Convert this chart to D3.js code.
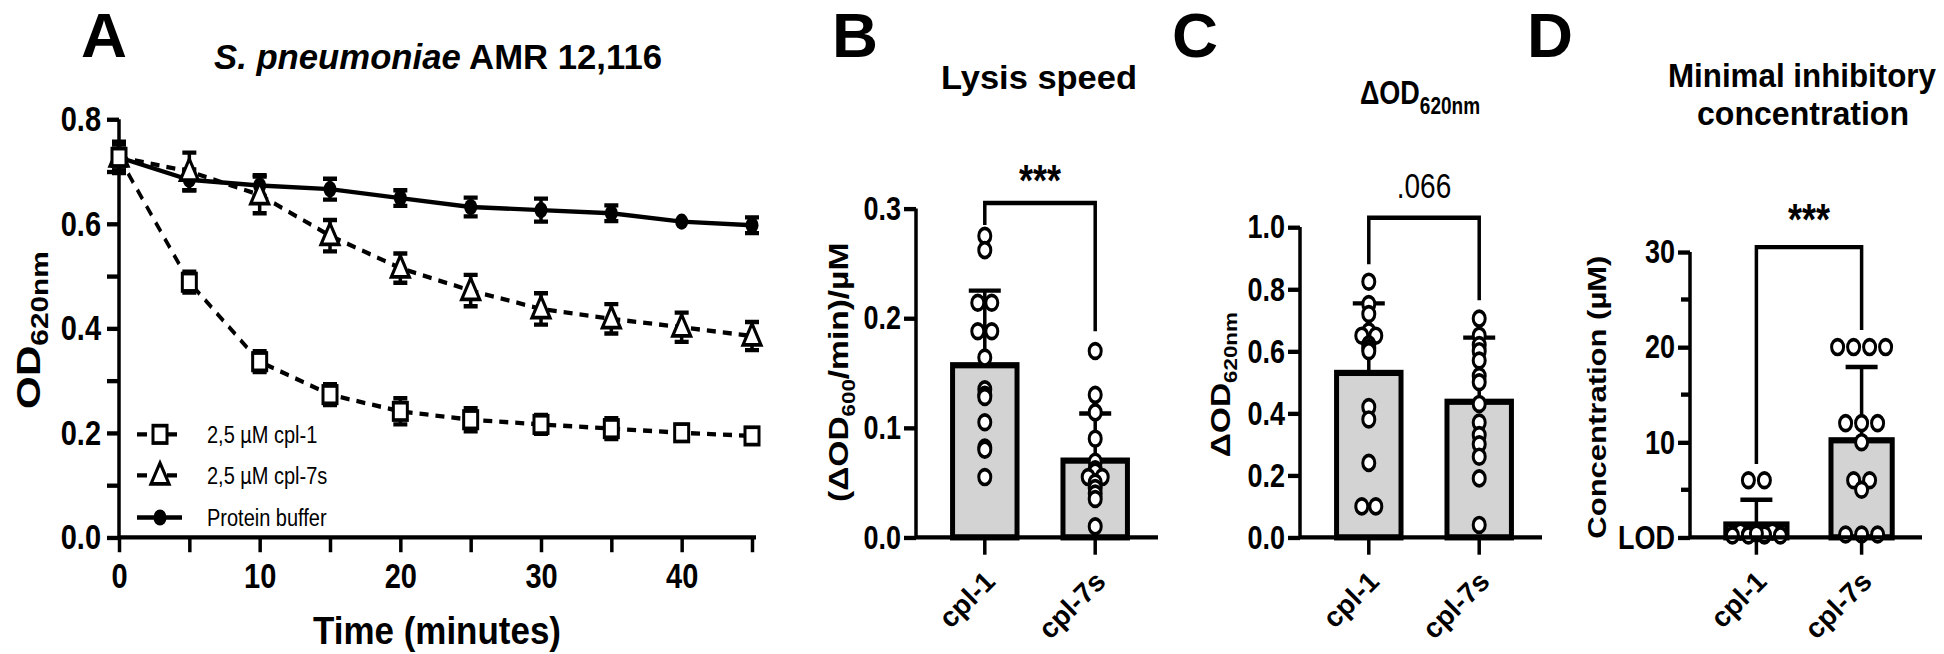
<!DOCTYPE html>
<html><head><meta charset="utf-8">
<script src="https://d3js.org/d3.v7.min.js"></script>
<style>body{margin:0;background:#fff}text{font-family:"Liberation Sans",Arial,sans-serif;font-weight:bold}</style>
</head><body><svg id="c" width="1944" height="654"></svg>
<script>
// ---------- Data ----------
const times = [0,5,10,15,20,25,30,35,40,45];
const cpl1Mean = [0.727,0.488,0.336,0.273,0.241,0.225,0.216,0.208,0.200,0.194];
const cpl1Err  = [0.025,0.02,0.02,0.02,0.025,0.022,0.018,0.02,0.015,0.015];
const cpl7Mean = [0.727,0.700,0.655,0.577,0.515,0.472,0.437,0.418,0.402,0.385];
const cpl7Err  = [0.03,0.036,0.035,0.03,0.028,0.03,0.03,0.028,0.028,0.027];
const bufMean  = [0.727,0.684,0.673,0.666,0.649,0.632,0.626,0.620,0.604,0.597];
const bufErr   = [0.025,0.02,0.02,0.02,0.015,0.018,0.022,0.015,0.0,0.015];
const yTicksA = [0,0.2,0.4,0.6,0.8];
const xTicksA = [0,10,20,30,40];
const groups = ["cpl-1","cpl-7s"];
const bMeans = [0.157,0.070]; const bSD=[0.068,0.043];
const bPts1 = [0.275,0.262,0.214,0.214,0.188,0.188,0.164,0.135,0.130,0.128,0.105,0.082,0.080,0.055];
const bPts2 = [0.170,0.130,0.114,0.090,0.069,0.062,0.060,0.055,0.055,0.050,0.045,0.040,0.035,0.010];
const cMeans = [0.530,0.437]; const cSD=[0.224,0.207];
const cPts1 = [0.824,0.752,0.720,0.664,0.650,0.650,0.622,0.610,0.600,0.420,0.380,0.240,0.100,0.100];
const cPts2 = [0.705,0.650,0.620,0.600,0.570,0.520,0.500,0.430,0.370,0.330,0.300,0.260,0.190,0.040];
const dMeans = [1.35,10.2]; const dSD=[2.6,7.7];
const dPts1 = [6,6,0.6,0.6,0.6,0.3,0.2,0.2,0.2,0.3,0.4,0.2];
const dPts2 = [20,20,20,20,12,12,12,10,6,6,5,0.3,0.3,0.3];

const SY = 654/527;
const svgTop = d3.select("#c");
const svg = svgTop.append("g").attr("transform",`scale(1,${SY})`);
function txt(g,x,y,s,size,opts={}){const t=g.append("text").attr("x",x).attr("y",y).attr("font-size",size).attr("text-anchor",opts.anchor||"middle").text(s);if(opts.rot)t.attr("transform",`rotate(${opts.rot},${x},${y})`);if(opts.weight)t.style("font-weight",opts.weight);if(opts.len)t.attr("textLength",opts.len).attr("lengthAdjust","spacingAndGlyphs");return t;}

[["A",104],["B",855],["C",1195],["D",1550]].forEach(([l,x])=>txt(svg,x,46,l,50,{len:46}));

// ---------- Panel A ----------
const xA = d3.scaleLinear().domain([0,45]).range([119,752]);
const yA = d3.scaleLinear().domain([0,0.8]).range([433,96]);
const gA = svg.append("g");
const axY = gA.append("g").attr("transform","translate(119,0)").call(d3.axisLeft(yA).tickValues(d3.range(0,0.81,0.1)).tickSize(12).tickFormat(d=>yTicksA.some(t=>Math.abs(t-d)<1e-6)?d.toFixed(1):""));
const axX = gA.append("g").attr("transform","translate(0,433)").call(d3.axisBottom(xA).tickValues(d3.range(0,46,5)).tickSize(12).tickFormat(d=>xTicksA.includes(d)?d:""));
[axY,axX].forEach(a=>{a.selectAll("path,line").attr("stroke","#000").attr("stroke-width",3.5);a.select(".domain").attr("d",a===axY?"M0,433V96":"M119,0H756");a.selectAll("text").attr("font-size",29).attr("fill","#000");});
axY.selectAll("text").attr("dx",-3);
axX.selectAll("text").attr("dy","0.9em");
const tA=txt(gA,438,56,"",29,{len:448});tA.append("tspan").attr("font-style","italic").text("S. pneumoniae");tA.append("tspan").text(" AMR 12,116");
txt(gA,437,519,"Time (minutes)",31,{len:248});
const oy=txt(gA,40,266,"",34,{rot:-90});oy.append("tspan").text("OD");oy.append("tspan").attr("font-size",24).attr("dy",8).text("620nm");

const series=[{m:cpl1Mean,e:cpl1Err,dash:"9,7",sym:"sq"},{m:cpl7Mean,e:cpl7Err,dash:"9,7",sym:"tri"},{m:bufMean,e:bufErr,dash:null,sym:"dot"}];
function sym(g,type,x,y){
 if(type==="sq") g.append("rect").attr("x",x-7).attr("y",y-7).attr("width",14).attr("height",14).attr("fill","#fff").attr("stroke","#000").attr("stroke-width",3);
 else if(type==="tri") g.append("path").attr("d",`M${x},${y-10}L${x+9},${y+7}L${x-9},${y+7}Z`).attr("fill","#fff").attr("stroke","#000").attr("stroke-width",3);
 else g.append("circle").attr("cx",x).attr("cy",y).attr("r",6.5).attr("fill","#000");
}
series.slice().reverse().forEach(s=>{
 const line=d3.line().x((d,i)=>xA(times[i])).y(d=>yA(d));
 gA.append("path").attr("d",line(s.m)).attr("fill","none").attr("stroke","#000").attr("stroke-width",3.5).attr("stroke-dasharray",s.dash);
 s.m.forEach((v,i)=>{const x=xA(times[i]);if(s.e[i]>0){const y1=yA(v+s.e[i]),y2=yA(v-s.e[i]);gA.append("path").attr("d",`M${x},${y1}V${y2}M${x-7},${y1}H${x+7}M${x-7},${y2}H${x+7}`).attr("stroke","#000").attr("stroke-width",3.5).attr("fill","none");}
 sym(gA,s.sym,x,yA(v));});
});
const legs=[["2,5 µM cpl-1","sq","10,20",350],["2,5 µM cpl-7s","tri","10,20",383],["Protein buffer","dot",null,417]];
legs.forEach(([l,s,d,y])=>{gA.append("path").attr("d",`M137,${y}H182`).attr("stroke","#000").attr("stroke-width",3.5).attr("stroke-dasharray",d);sym(gA,s,160,y);txt(gA,207,y+7,l,20,{anchor:"start",weight:"normal"});});

// ---------- Bar panels ----------
function barPanel(o){
 const g=svg.append("g");
 const x=d3.scaleBand().domain(groups).range([o.ax+18,o.xEnd]).paddingInner(0.38).paddingOuter(0.15);
 const y=d3.scaleLinear().domain(o.dom).range([433,o.top]);
 const cx=c=>x(c)+x.bandwidth()/2;
 o.means.forEach((m,i)=>{g.append("rect").attr("x",x(groups[i])+2).attr("y",y(m)).attr("width",x.bandwidth()-4).attr("height",433-y(m)).attr("fill","#d3d3d3").attr("stroke","#000").attr("stroke-width",5);});
 o.means.forEach((m,i)=>{const X=cx(groups[i]);g.append("path").attr("d",`M${X},${y(m)}V${y(m+o.sd[i])}M${X-16},${y(m+o.sd[i])}H${X+16}`).attr("stroke","#000").attr("stroke-width",3.5);});
 [o.p1,o.p2].forEach((pts,i)=>{const X=cx(groups[i]);const cnt={};pts.forEach(v=>{const k=v.toFixed(3);cnt[k]=(cnt[k]||0)+1;});const seen={};
  pts.forEach(v=>{const k=v.toFixed(3);const n=cnt[k];const j=seen[k]=(seen[k]||0)+1;const off=(j-1-(n-1)/2)*o.jit;
   g.append("circle").attr("cx",X+off).attr("cy",y(v)).attr("r",6).attr("fill","#fff").attr("stroke","#000").attr("stroke-width",3);});});
 const ay=g.append("g").attr("transform",`translate(${o.ax},0)`).call(d3.axisLeft(y).tickValues(o.ticks).tickSize(12).tickFormat(o.fmt));
 const ax=g.append("g").attr("transform","translate(0,433)").call(d3.axisBottom(x).tickSize(14).tickFormat(""));
 [ay,ax].forEach(a=>{a.selectAll("path,line").attr("stroke","#000").attr("stroke-width",3.5);a.selectAll("text").attr("font-size",27).attr("fill","#000");});
 ay.select(".domain").attr("d",`M0,433V${o.top}`);ax.select(".domain").attr("d",`M${o.ax},0H${o.xEnd+12}`);
 if(o.minor) o.minor.forEach(v=>g.append("line").attr("x1",o.ax-9).attr("x2",o.ax).attr("y1",y(v)).attr("y2",y(v)).attr("stroke","#000").attr("stroke-width",3.5));
 groups.forEach(c=>txt(svgTop,cx(c)+12,470*SY,c,28,{anchor:"end",rot:-45}));
 const X1=cx(groups[0]),X2=cx(groups[1]);
 g.append("path").attr("d",`M${X1},${y(o.br[1])}V${y(o.br[0])}H${X2}V${y(o.br[2])}`).attr("fill","none").attr("stroke","#000").attr("stroke-width",3.5);
 txt(g,(X1+X2)/2,y(o.br[0])-o.sigOff,o.sig,o.sig.startsWith("*")?36:28,{weight:o.sig.startsWith("*")?"bold":"normal"});
 return {g,x,y};
}
const B=barPanel({ax:916,xEnd:1146,top:168,dom:[0,0.3],ticks:[0,0.1,0.2,0.3],fmt:d=>d.toFixed(1),means:bMeans,sd:bSD,p1:bPts1,p2:bPts2,jit:14,br:[0.305,0.285,0.188],sig:"***",sigOff:6});
txt(B.g,1039,72,"Lysis speed",27,{len:196});
const by=txt(B.g,848,300,"",27,{rot:-90});by.append("tspan").text("(ΔOD");by.append("tspan").attr("font-size",18).attr("dy",7).text("600");by.append("tspan").attr("dy",-7).text("/min)/µM");

const C=barPanel({ax:1300,xEnd:1530,top:183,dom:[0,1.0],ticks:[0,0.2,0.4,0.6,0.8,1.0],fmt:d=>d.toFixed(1),means:cMeans,sd:cSD,p1:cPts1,p2:cPts2,jit:14,br:[1.03,0.88,0.764],sig:".066",sigOff:16});
const ct=txt(C.g,1420,84,"",27);ct.append("tspan").text("ΔOD");ct.append("tspan").attr("font-size",19).attr("dy",8).text("620nm");
const cyl=txt(C.g,1230,310,"",27,{rot:-90});cyl.append("tspan").text("ΔOD");cyl.append("tspan").attr("font-size",18).attr("dy",7).text("620nm");

const D=barPanel({ax:1690,xEnd:1910,top:203,dom:[0,30],ticks:[0,10,20,30],fmt:d=>d===0?"LOD":d,means:dMeans,sd:dSD,p1:dPts1,p2:dPts2,jit:16,minor:[5,15,25],br:[30.5,7.7,21.8],sig:"***",sigOff:10});
txt(D.g,1802,70,"Minimal inhibitory",27,{len:268});
txt(D.g,1803,101,"concentration",27,{len:212});
txt(D.g,1606,320,"Concentration (µM)",25,{rot:-90});
</script></body></html>
